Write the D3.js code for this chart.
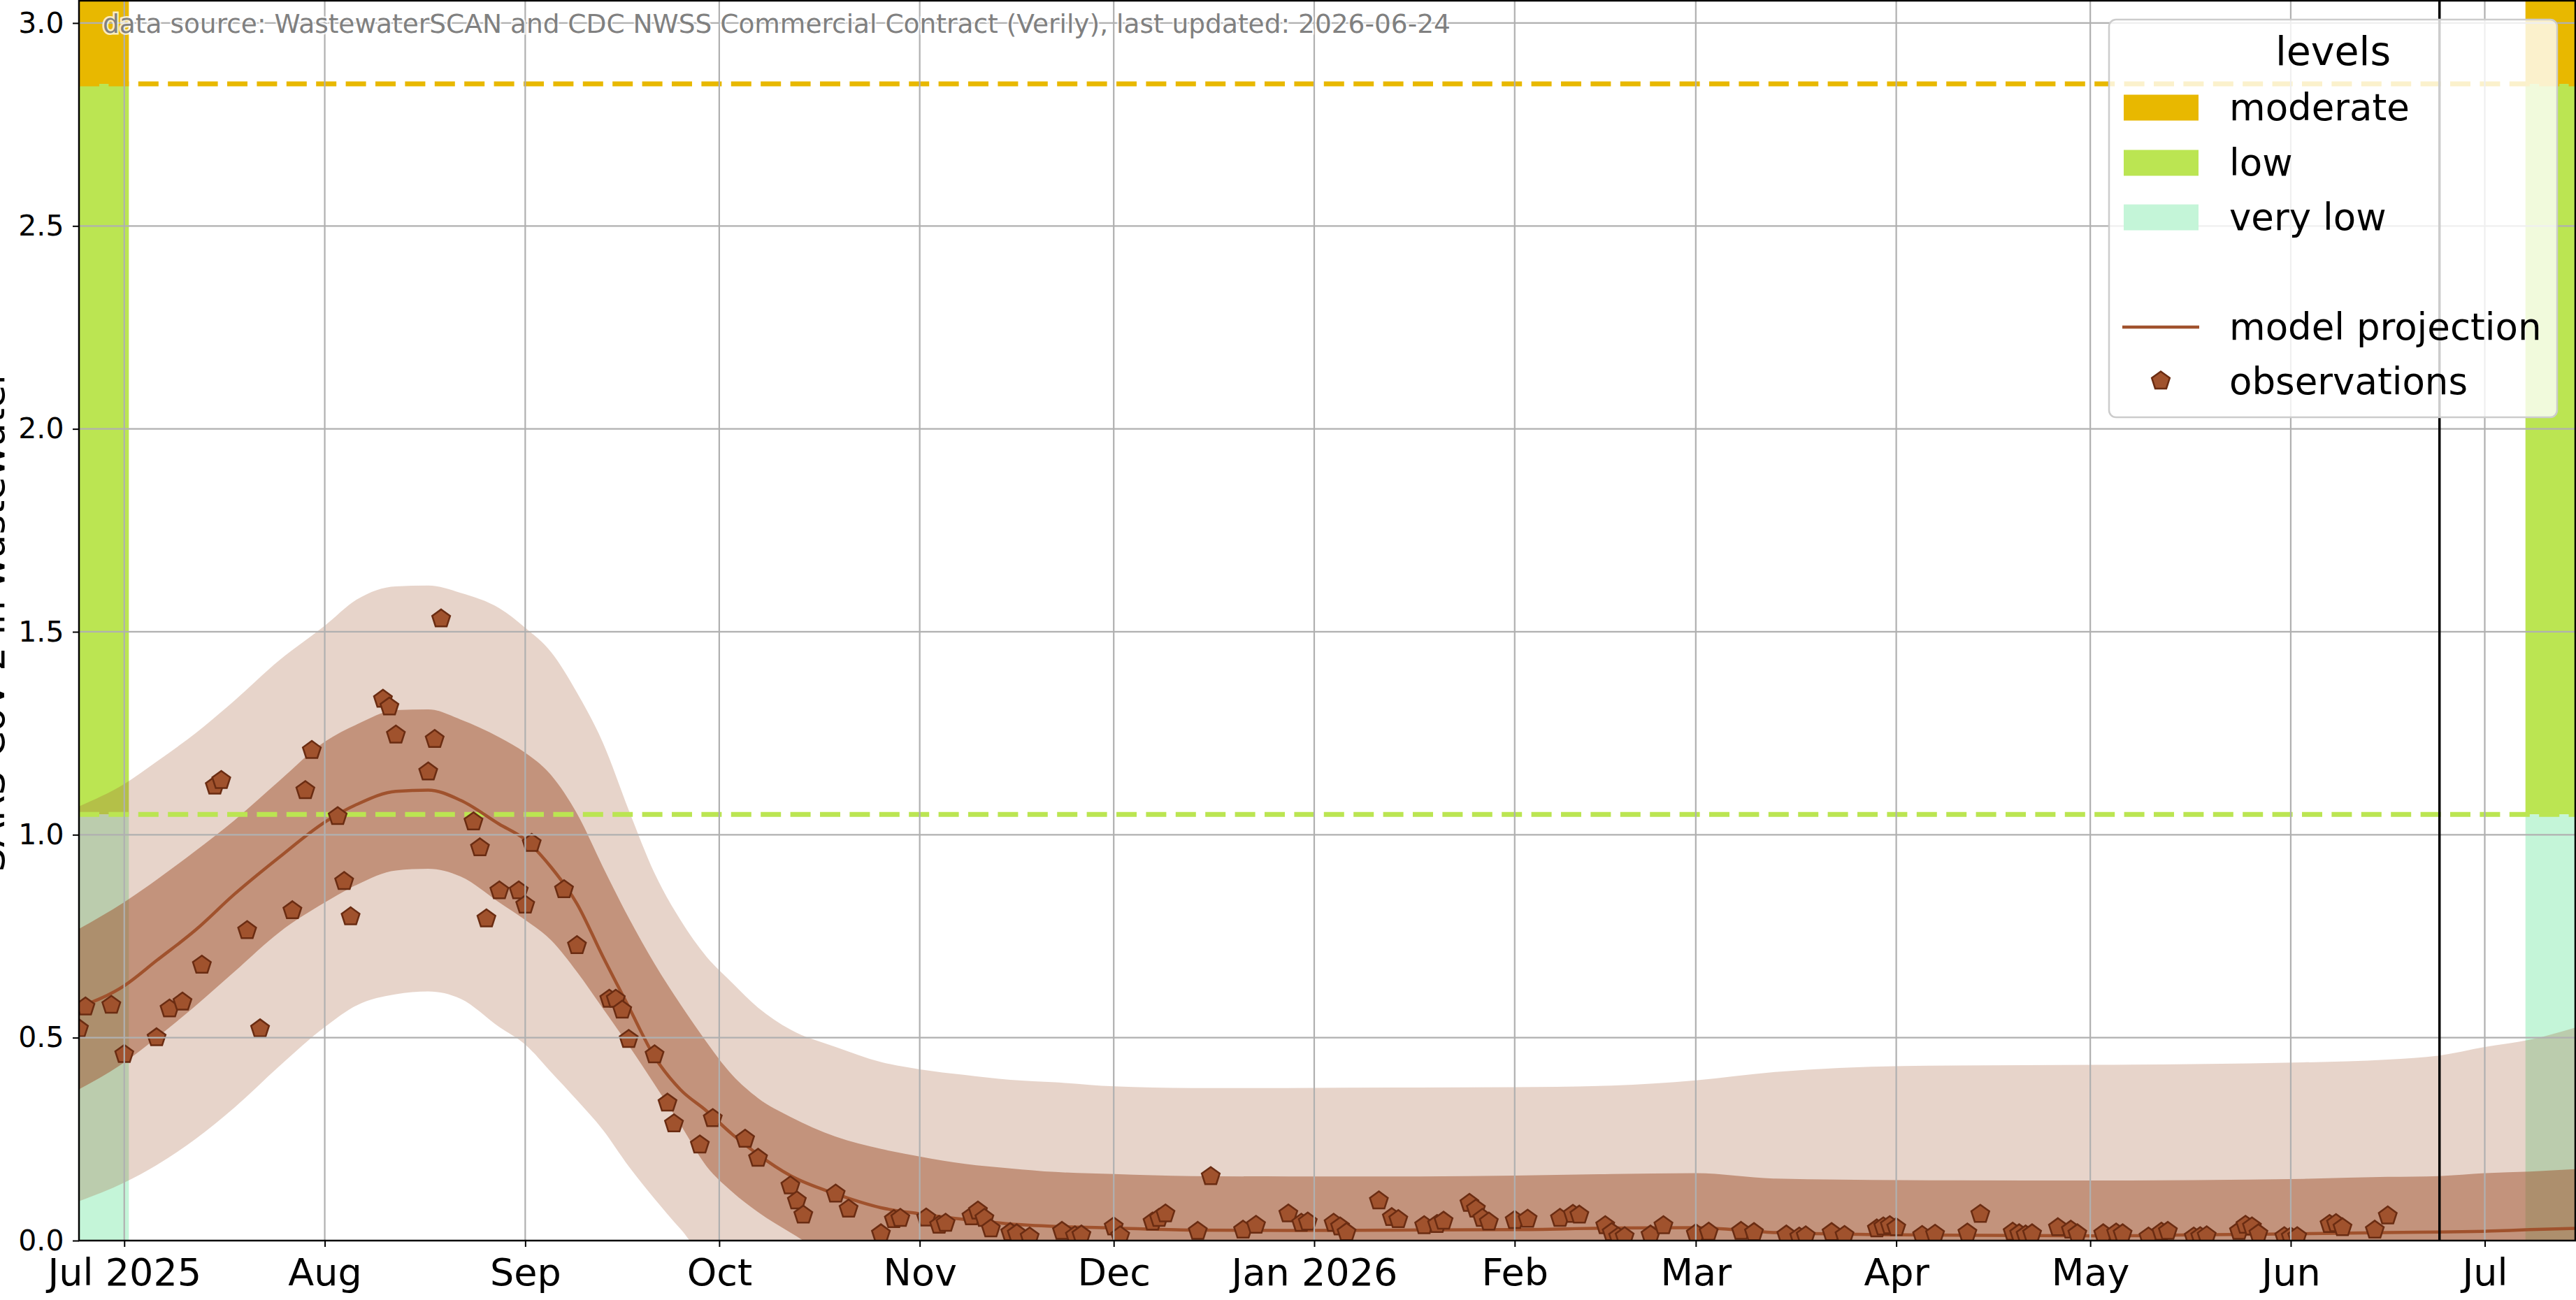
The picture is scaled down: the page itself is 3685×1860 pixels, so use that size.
<!DOCTYPE html>
<html>
<head>
<meta charset="utf-8">
<script src="https://cdn.jsdelivr.net/npm/d3@7"></script>
<style>
  body { margin: 0; background: #fff; }
  svg { display: block; font-family: "DejaVu Sans", sans-serif; }
</style>
</head>
<body>
<svg id="chart" width="3685" height="1860"></svg>
<script>
const sourceText = 'data source: WastewaterSCAN and CDC NWSS Commercial Contract (Verily), last updated: 2026-06-24';
const yAxisLabelText = 'SARS-CoV-2 in wastewater';
const lastUpdated = '2026-06-24';

// level legend + thresholds (moderate above 2.85, low 1.05 - 2.85, very low below)
const levelNames = ['moderate', 'low', 'very low'];
const levelColors = ['#e8b800', '#bbe552', '#c4f5d8'];
const levelBreaks = [2.85, 1.05];
const levelSpans = [['2025-06-24T00:00', '2025-07-01T17:00'], ['2026-07-07T07:00', '2026-07-15T00:00']];

// axis ticks
const yTicks = [0, 0.5, 1.0, 1.5, 2.0, 2.5, 3.0];
const xTickDates = ['2025-07-01', '2025-08-01', '2025-09-01', '2025-10-01', '2025-11-01', '2025-12-01',
  '2026-01-01', '2026-02-01', '2026-03-01', '2026-04-01', '2026-05-01', '2026-06-01', '2026-07-01'];
const xTickLabels = ['Jul 2025', 'Aug', 'Sep', 'Oct', 'Nov', 'Dec', 'Jan 2026', 'Feb', 'Mar', 'Apr', 'May', 'Jun', 'Jul'];

// model projection: dates, mean and the 50% / 95% bands
const bandDates = ['2025-06-24', '2025-07-01', '2025-07-06', '2025-07-12', '2025-07-18', '2025-07-25',
  '2025-08-01', '2025-08-06', '2025-08-12', '2025-08-17', '2025-08-22', '2025-08-28',
  '2025-09-01', '2025-09-05', '2025-09-09', '2025-09-13', '2025-09-17', '2025-09-21', '2025-09-25', '2025-09-29',
  '2025-10-03', '2025-10-07', '2025-10-12', '2025-10-19', '2025-10-26',
  '2025-11-01', '2025-11-08', '2025-11-15', '2025-11-22', '2025-12-01', '2025-12-13', '2025-12-28',
  '2026-01-14', '2026-02-01', '2026-02-16', '2026-03-01', '2026-03-13', '2026-04-02', '2026-05-02',
  '2026-05-17', '2026-06-03', '2026-06-16', '2026-06-24', '2026-07-01', '2026-07-08', '2026-07-15'];
const hi95 = [1.07, 1.125, 1.18, 1.25, 1.33, 1.43, 1.515, 1.58, 1.612, 1.614, 1.596, 1.558, 1.51, 1.45, 1.35,
  1.227, 1.061, 0.905, 0.79, 0.70, 0.635, 0.574, 0.52, 0.477, 0.44, 0.422, 0.408, 0.396, 0.39, 0.38, 0.376,
  0.376, 0.377, 0.378, 0.382, 0.395, 0.415, 0.43, 0.433, 0.435, 0.439, 0.446, 0.456, 0.477, 0.495, 0.525];
const hi50 = [0.768, 0.834, 0.889, 0.96, 1.035, 1.133, 1.229, 1.272, 1.307, 1.309, 1.284, 1.24, 1.202, 1.147,
  1.052, 0.921, 0.795, 0.682, 0.582, 0.49, 0.408, 0.351, 0.305, 0.256, 0.226, 0.207, 0.189, 0.178, 0.169,
  0.164, 0.159, 0.158, 0.158, 0.160, 0.164, 0.166, 0.153, 0.149, 0.148, 0.149, 0.152, 0.157, 0.159, 0.166, 0.170, 0.176];
const meanVals = [0.575, 0.628, 0.69, 0.765, 0.853, 0.945, 1.031, 1.075, 1.107, 1.11, 1.085, 1.026, 0.988, 0.92,
  0.83, 0.70, 0.576, 0.453, 0.372, 0.32, 0.262, 0.212, 0.16, 0.115, 0.081, 0.066, 0.052, 0.041, 0.035, 0.031,
  0.026, 0.025, 0.026, 0.027, 0.031, 0.032, 0.02, 0.014, 0.0115, 0.014, 0.017, 0.020, 0.021, 0.023, 0.027, 0.030];
const lo50 = [0.373, 0.439, 0.50, 0.578, 0.662, 0.76, 0.833, 0.877, 0.912, 0.916, 0.897, 0.833, 0.79, 0.74,
  0.662, 0.572, 0.481, 0.385, 0.286, 0.184, 0.12, 0.07, 0.02, -0.035, 0, 0, 0, 0, 0, 0, 0, 0, 0, 0, 0, 0,
  0, 0, 0, 0, 0, 0, 0, 0, 0, 0];
const lo95 = [0.097, 0.143, 0.186, 0.25, 0.327, 0.43, 0.526, 0.58, 0.607, 0.614, 0.596, 0.526, 0.483, 0.415,
  0.346, 0.273, 0.183, 0.103, 0.029, -0.035, 0, 0, 0, 0, 0, 0, 0, 0, 0, 0, 0, 0, 0, 0, 0, 0, 0, 0, 0, 0,
  0, 0, 0, 0, 0, 0];

// observations
const obsDates = ['2025-06-24', '2025-06-25', '2025-06-29', '2025-07-01', '2025-07-06', '2025-07-08', '2025-07-10', '2025-07-13', '2025-07-15', '2025-07-16',
  '2025-07-20', '2025-07-22', '2025-07-27', '2025-07-29', '2025-07-30', '2025-08-03', '2025-08-04', '2025-08-05', '2025-08-10', '2025-08-11',
  '2025-08-12', '2025-08-17', '2025-08-18', '2025-08-19', '2025-08-24', '2025-08-25', '2025-08-26', '2025-08-28', '2025-08-31', '2025-09-01',
  '2025-09-02', '2025-09-07', '2025-09-09', '2025-09-14', '2025-09-15', '2025-09-16', '2025-09-17', '2025-09-21', '2025-09-23', '2025-09-24',
  '2025-09-28', '2025-09-30', '2025-10-05', '2025-10-07', '2025-10-12', '2025-10-13', '2025-10-14', '2025-10-19', '2025-10-21', '2025-10-26',
  '2025-10-28', '2025-10-29', '2025-11-02', '2025-11-04', '2025-11-05', '2025-11-09', '2025-11-10', '2025-11-11', '2025-11-12', '2025-11-15',
  '2025-11-16', '2025-11-18', '2025-11-23', '2025-11-25', '2025-11-26', '2025-12-01', '2025-12-02', '2025-12-07', '2025-12-08', '2025-12-09',
  '2025-12-14', '2025-12-16', '2025-12-21', '2025-12-23', '2025-12-28', '2025-12-30', '2025-12-31', '2026-01-04', '2026-01-05', '2026-01-06',
  '2026-01-11', '2026-01-13', '2026-01-14', '2026-01-18', '2026-01-20', '2026-01-21', '2026-01-25', '2026-01-26', '2026-01-27', '2026-01-28',
  '2026-02-01', '2026-02-03', '2026-02-08', '2026-02-10', '2026-02-11', '2026-02-15', '2026-02-16', '2026-02-17', '2026-02-18', '2026-02-22',
  '2026-02-24', '2026-03-01', '2026-03-03', '2026-03-08', '2026-03-10', '2026-03-15', '2026-03-17', '2026-03-18', '2026-03-22', '2026-03-24',
  '2026-03-29', '2026-03-30', '2026-03-31', '2026-04-01', '2026-04-05', '2026-04-07', '2026-04-12', '2026-04-14', '2026-04-19', '2026-04-20',
  '2026-04-21', '2026-04-22', '2026-04-26', '2026-04-28', '2026-04-29', '2026-05-03', '2026-05-05', '2026-05-06', '2026-05-10', '2026-05-12',
  '2026-05-13', '2026-05-17', '2026-05-18', '2026-05-19', '2026-05-24', '2026-05-25', '2026-05-26', '2026-05-27', '2026-05-31', '2026-06-01',
  '2026-06-02', '2026-06-07', '2026-06-08', '2026-06-09', '2026-06-14', '2026-06-16'];
const obsValues = [0.522, 0.576, 0.580, 0.459, 0.500, 0.571, 0.588, 0.679, 1.120, 1.134,
  0.764, 0.522, 0.813, 1.109, 1.208, 1.045, 0.885, 0.798, 1.334, 1.315,
  1.246, 1.155, 1.235, 1.532, 1.032, 0.968, 0.793, 0.862, 0.862, 0.827,
  0.979, 0.865, 0.727, 0.595, 0.595, 0.568, 0.496, 0.458, 0.339, 0.288,
  0.236, 0.301, 0.250, 0.203, 0.135, 0.098, 0.063, 0.115, 0.078, 0.017,
  0.052, 0.055, 0.056, 0.038, 0.043, 0.059, 0.073, 0.055, 0.029, 0.020,
  0.017, 0.009, 0.023, 0.012, 0.014, 0.034, 0.012, 0.046, 0.055, 0.066,
  0.023, 0.158, 0.026, 0.038, 0.066, 0.043, 0.046, 0.043, 0.034, 0.020,
  0.098, 0.057, 0.052, 0.037, 0.040, 0.048, 0.092, 0.078, 0.055, 0.046,
  0.050, 0.053, 0.055, 0.065, 0.063, 0.037, 0.020, 0.009, 0.010, 0.014,
  0.037, 0.017, 0.021, 0.023, 0.020, 0.014, 0.009, 0.012, 0.020, 0.013,
  0.029, 0.034, 0.037, 0.032, 0.013, 0.016, 0.019, 0.065, 0.021, 0.017,
  0.014, 0.017, 0.032, 0.026, 0.017, 0.017, 0.019, 0.017, 0.009, 0.021,
  0.023, 0.009, 0.010, 0.012, 0.023, 0.038, 0.034, 0.017, 0.010, 0.009,
  0.010, 0.040, 0.042, 0.032, 0.026, 0.061];

const sienna = '#a0522d';
const markerEdge = '#6a2c12';

const svg = d3.select('#chart');
const parseDay = d3.timeParse('%Y-%m-%d');
const parseTime = d3.timeParse('%Y-%m-%dT%H:%M');

// plot box (pixel edges of the axes)
const plotL = 113, plotR = 3684, plotT = 1, plotB = 1775;

const x = d3.scaleTime()
  .domain([parseDay('2025-06-24'), parseDay('2026-07-15')])
  .range([plotL, plotR]);
const y = d3.scaleLinear()
  .domain([0, 3.055])
  .range([plotB, plotT]);

const rows = bandDates.map((d, i) => ({
  date: parseDay(d), lo95: lo95[i], lo50: lo50[i], mean: meanVals[i], hi50: hi50[i], hi95: hi95[i]
}));
const obs = obsDates.map((d, i) => ({ date: parseDay(d), value: obsValues[i] }));

svg.append('defs').append('clipPath').attr('id', 'plotClip')
  .append('rect')
  .attr('x', plotL).attr('y', plotT)
  .attr('width', plotR - plotL).attr('height', plotB - plotT);

const plot = svg.append('g').attr('clip-path', 'url(#plotClip)');

// level bands at both ends of the window
const yMax = y.domain()[1];
const levelRanges = [[levelBreaks[0], yMax], [levelBreaks[1], levelBreaks[0]], [0, levelBreaks[1]]];
levelSpans.forEach(span => {
  const x0 = x(parseTime(span[0])), x1 = x(parseTime(span[1]));
  levelRanges.forEach((r, i) => {
    plot.append('rect')
      .attr('x', x0).attr('width', x1 - x0)
      .attr('y', y(r[1])).attr('height', y(r[0]) - y(r[1]))
      .attr('fill', levelColors[i]);
  });
});

// projection bands
const area95 = d3.area().curve(d3.curveMonotoneX)
  .x(d => x(d.date)).y0(d => y(d.lo95)).y1(d => y(d.hi95));
const area50 = d3.area().curve(d3.curveMonotoneX)
  .x(d => x(d.date)).y0(d => y(d.lo50)).y1(d => y(d.hi50));

plot.append('path').datum(rows).attr('d', area95)
  .attr('fill', sienna).attr('fill-opacity', 0.25);
plot.append('path').datum(rows).attr('d', area50)
  .attr('fill', sienna).attr('fill-opacity', 0.5);

// grid
const grid = svg.append('g').attr('stroke', '#b0b0b0').attr('stroke-width', 2.2);
xTickDates.forEach(d => {
  const xx = x(parseDay(d));
  grid.append('line').attr('x1', xx).attr('x2', xx).attr('y1', plotT).attr('y2', plotB);
});
yTicks.forEach(v => {
  grid.append('line').attr('x1', plotL).attr('x2', plotR).attr('y1', y(v)).attr('y2', y(v));
});

// threshold dashed lines
levelBreaks.forEach((v, i) => {
  plot.append('line')
    .attr('x1', plotL).attr('x2', plotR)
    .attr('y1', y(v)).attr('y2', y(v))
    .attr('stroke', levelColors[i])
    .attr('stroke-width', 7)
    .attr('stroke-dasharray', '29,13.4');
});

// model projection line
const meanLine = d3.line().curve(d3.curveMonotoneX)
  .x(d => x(d.date)).y(d => y(d.mean));
plot.append('path').datum(rows).attr('d', meanLine)
  .attr('fill', 'none').attr('stroke', sienna).attr('stroke-width', 4.5);

// pentagon marker
const pentagon = {
  draw(context, size) {
    const r = Math.sqrt(size);
    for (let k = 0; k < 5; k++) {
      const a = -Math.PI / 2 + k * 2 * Math.PI / 5;
      if (k === 0) context.moveTo(r * Math.cos(a), r * Math.sin(a));
      else context.lineTo(r * Math.cos(a), r * Math.sin(a));
    }
    context.closePath();
  }
};
const marker = d3.symbol().type(pentagon).size(13.5 * 13.5);

plot.selectAll('path.obs').data(obs).enter().append('path')
  .attr('class', 'obs')
  .attr('transform', d => `translate(${x(d.date)},${y(d.value)})`)
  .attr('d', marker)
  .attr('fill', sienna)
  .attr('stroke', markerEdge)
  .attr('stroke-width', 2.5);

// last updated marker
const xu = x(parseDay(lastUpdated));
svg.append('line')
  .attr('x1', xu).attr('x2', xu).attr('y1', plotT).attr('y2', plotB)
  .attr('stroke', '#000').attr('stroke-width', 3.5);

// data source note
svg.append('text')
  .attr('x', 147).attr('y', 47)
  .attr('font-size', 37.5)
  .attr('fill', '#808080')
  .attr('stroke', '#fff').attr('stroke-width', 5).attr('stroke-opacity', 0.75)
  .attr('paint-order', 'stroke')
  .text(sourceText);

// axes
const yAxisG = svg.append('g')
  .attr('transform', `translate(${plotL},0)`)
  .call(d3.axisLeft(y).tickValues(yTicks).tickFormat(d3.format('.1f')).tickSize(9).tickPadding(12.5));
yAxisG.select('.domain').remove();
yAxisG.selectAll('text').attr('font-size', 41).attr('font-family', 'DejaVu Sans').attr('fill', '#000');
yAxisG.selectAll('.tick line').attr('stroke', '#000').attr('stroke-width', 2);

const xAxisG = svg.append('g')
  .attr('transform', `translate(0,${plotB})`)
  .call(d3.axisBottom(x).tickValues(xTickDates.map(parseDay))
    .tickFormat((d, i) => xTickLabels[i]).tickSize(9).tickPadding(17));
xAxisG.select('.domain').remove();
xAxisG.selectAll('text').attr('font-size', 54).attr('font-family', 'DejaVu Sans').attr('fill', '#000');
xAxisG.selectAll('.tick line').attr('stroke', '#000').attr('stroke-width', 2);

// y label (mostly cut off at the left edge, as in the original)
svg.append('text')
  .attr('transform', `translate(6,${(plotT + plotB) / 2}) rotate(-90)`)
  .attr('text-anchor', 'middle')
  .attr('font-size', 54)
  .attr('fill', '#000')
  .text(yAxisLabelText);

// spines
svg.append('rect')
  .attr('x', plotL).attr('y', plotT)
  .attr('width', plotR - plotL).attr('height', plotB - plotT)
  .attr('fill', 'none').attr('stroke', '#000').attr('stroke-width', 2.5);

// legend
const legend = svg.append('g');
legend.append('rect')
  .attr('x', 3017).attr('y', 28).attr('width', 641).attr('height', 569).attr('rx', 10)
  .attr('fill', '#fff').attr('fill-opacity', 0.8)
  .attr('stroke', '#cccccc').attr('stroke-width', 2.5);
legend.append('text')
  .attr('x', 3337.5).attr('y', 93).attr('text-anchor', 'middle')
  .attr('font-size', 57).attr('fill', '#000')
  .text('levels');

const rowY = [154, 233, 311];
levelNames.forEach((name, i) => {
  legend.append('rect')
    .attr('x', 3038).attr('y', rowY[i] - 18.5).attr('width', 107).attr('height', 37)
    .attr('fill', levelColors[i]);
  legend.append('text')
    .attr('x', 3189).attr('y', rowY[i] + 18)
    .attr('font-size', 53).attr('fill', '#000')
    .text(name);
});

legend.append('line')
  .attr('x1', 3036).attr('x2', 3146).attr('y1', 468).attr('y2', 468)
  .attr('stroke', sienna).attr('stroke-width', 4.5);
legend.append('text')
  .attr('x', 3189).attr('y', 486)
  .attr('font-size', 53).attr('fill', '#000')
  .text('model projection');

legend.append('path')
  .attr('transform', 'translate(3091,545)')
  .attr('d', marker)
  .attr('fill', sienna).attr('stroke', markerEdge).attr('stroke-width', 2.5);
legend.append('text')
  .attr('x', 3189).attr('y', 564)
  .attr('font-size', 53).attr('fill', '#000')
  .text('observations');
</script>
</body>
</html>
